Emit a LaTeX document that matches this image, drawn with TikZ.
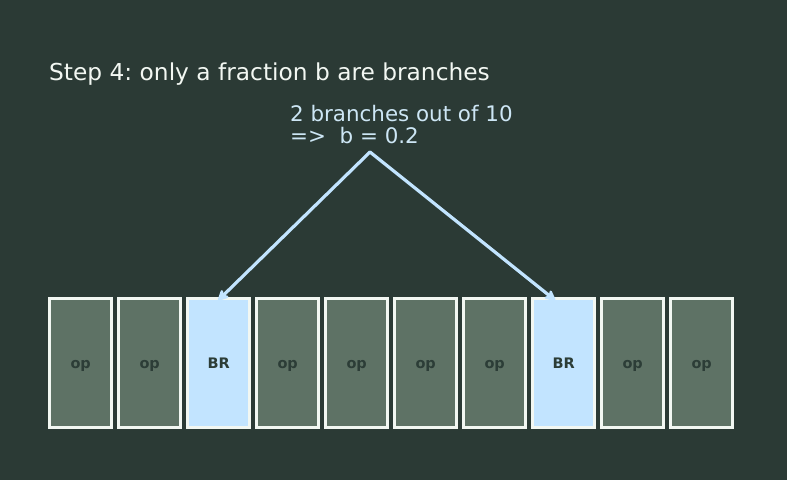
\documentclass[tikz,border=0pt]{standalone}
\usepackage{fontspec}
\setmainfont{DejaVu Sans}
\usetikzlibrary{arrows.meta}
\definecolor{bg}{HTML}{2B3A35}
\definecolor{opfill}{HTML}{5E7265}
\definecolor{brfill}{HTML}{C2E4FF}
\definecolor{edge}{HTML}{F2F7F2}
\definecolor{anno}{HTML}{CDE6F5}
\definecolor{arr}{HTML}{C2E4FF}
\definecolor{labtext}{HTML}{2C3D37}
\frenchspacing
\begin{document}
\begin{tikzpicture}[x=1pt,y=-1pt,
  cell/.style={draw=edge,line width=2.8pt,minimum width=62pt,minimum height=129pt,inner sep=0pt,anchor=north west,font=\bfseries\fontsize{14.5}{16}\selectfont,text=labtext,text height=12pt,text depth=1pt},
  opcell/.style={cell,fill=opfill},
  brcell/.style={cell,fill=brfill},
  pointer/.style={draw=arr,line width=3.2pt,line cap=round,-{Stealth[length=13pt,width=13pt,inset=3.5pt,round]}}]
\fill[bg] (0,0) rectangle (787,480);
\useasboundingbox (0,0) rectangle (787,480);
\node[anchor=base west,text=edge,font=\fontsize{23.3}{27}\selectfont,inner sep=0pt] (title) at (49,80) {Step 4: only a fraction b are branches};
\node[anchor=base west,text=anno,font=\fontsize{21.4}{22}\selectfont,inner sep=0pt] (note1) at (290,121) {2 branches out of 10};
\node[anchor=base west,text=anno,font=\fontsize{21.4}{22}\selectfont,inner sep=0pt] (note2) at (290,143) {=>\ \ b = 0.2};
\node[opcell] (c1) at (48.3,297.3) {op};
\node[opcell] (c2) at (117.3,297.3) {op};
\node[brcell] (c3) at (186.3,297.3) {BR};
\node[opcell] (c4) at (255.3,297.3) {op};
\node[opcell] (c5) at (324.3,297.3) {op};
\node[opcell] (c6) at (393.3,297.3) {op};
\node[opcell] (c7) at (462.3,297.3) {op};
\node[brcell] (c8) at (531.3,297.3) {BR};
\node[opcell] (c9) at (600.3,297.3) {op};
\node[opcell] (c10) at (669.3,297.3) {op};
\coordinate (apex) at (370,152);
\draw[pointer] (apex) -- ([xshift=-0.5pt,yshift=-3pt]c3.north);
\draw[pointer] (apex) -- ([xshift=-8.5pt,yshift=-3pt]c8.north);
\end{tikzpicture}
\end{document}
